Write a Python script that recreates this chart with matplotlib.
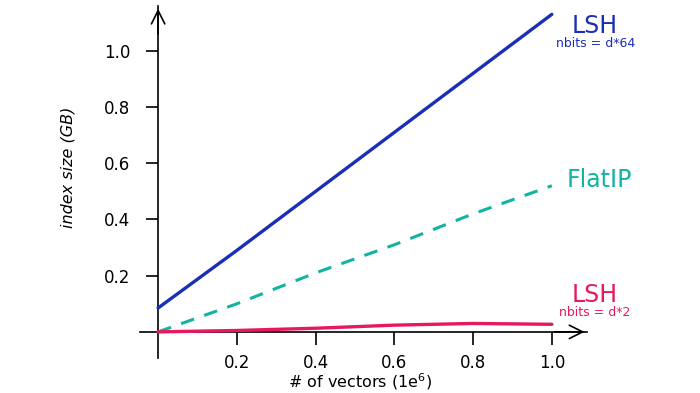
import matplotlib
matplotlib.use('Agg')
import matplotlib.pyplot as plt

# ── Data ──────────────────────────────────────────────────────────────────────
n_vectors = [0.0, 0.2, 0.4, 0.6, 0.8, 1.0]             # millions of vectors
lsh_d64   = [0.085, 0.29, 0.50, 0.71, 0.92, 1.13]      # GB, LSH nbits = d*64
flat_ip   = [0.0, 0.10, 0.21, 0.31, 0.42, 0.52]        # GB, IndexFlatIP
lsh_d2    = [0.0, 0.005, 0.013, 0.024, 0.030, 0.027]   # GB, LSH nbits = d*2

tick_vals = [0.2, 0.4, 0.6, 0.8, 1.0]

BLUE = '#1b2fb5'
TEAL = '#13b3a3'
PINK = '#e8185e'

fig = plt.figure(figsize=(7, 3.93), dpi=100, facecolor='white')
ax = fig.add_axes([0.2, 0.089, 0.639, 0.896])
ax.set_xlim(-0.046, 1.09)
ax.set_ylim(-0.093, 1.16)

# ── Series ────────────────────────────────────────────────────────────────────
ax.plot(n_vectors, lsh_d64, color=BLUE, lw=2.4, solid_capstyle='round', zorder=3)
ax.plot(n_vectors, flat_ip, color=TEAL, lw=2.2, ls=(0, (4.5, 3.5)), zorder=3)
ax.plot(n_vectors, lsh_d2, color=PINK, lw=2.4, solid_capstyle='round', zorder=3)

# ── Axes through the origin, with arrow heads ─────────────────────────────────
for side in ('top', 'right'):
    ax.spines[side].set_visible(False)
ax.spines['left'].set_position(('data', 0))
ax.spines['bottom'].set_position(('data', 0))
for side in ('left', 'bottom'):
    ax.spines[side].set_linewidth(1.2)

ax.annotate('', xy=(1.09, 0), xytext=(1.0, 0),
            arrowprops=dict(arrowstyle='->', lw=1.2, mutation_scale=24, color='black'),
            annotation_clip=False)
ax.annotate('', xy=(0, 1.16), xytext=(0, 1.05),
            arrowprops=dict(arrowstyle='->', lw=1.2, mutation_scale=24, color='black'),
            annotation_clip=False)

ax.set_xticks(tick_vals)
ax.set_yticks(tick_vals)
ax.set_xticklabels([f'{v:.1f}' for v in tick_vals])
ax.set_yticklabels([f'{v:.1f}' for v in tick_vals])
ax.tick_params(direction='out', length=9, width=1.2, labelsize=12, pad=7)
ax.tick_params(axis='y', pad=11)

fig.text(0.514, 0.028, '# of vectors (1e$^6$)', ha='center', va='center', fontsize=11.5)
fig.text(0.097, 0.575, 'index size (GB)', ha='center', va='center',
         rotation=90, fontsize=11.5, style='italic')

# ── Series labels on the right ────────────────────────────────────────────────
ax.text(1.11, 1.09, 'LSH', color=BLUE, fontsize=17, ha='center', va='center', clip_on=False)
ax.text(1.11, 1.025, 'nbits = d*64', color=BLUE, fontsize=9, ha='center', va='center', clip_on=False)
ax.text(1.12, 0.54, 'FlatIP', color=TEAL, fontsize=17, ha='center', va='center', clip_on=False)
ax.text(1.11, 0.13, 'LSH', color=PINK, fontsize=17, ha='center', va='center', clip_on=False)
ax.text(1.11, 0.068, 'nbits = d*2', color=PINK, fontsize=9, ha='center', va='center', clip_on=False)

fig.savefig('out.png', dpi=100, facecolor='white')
